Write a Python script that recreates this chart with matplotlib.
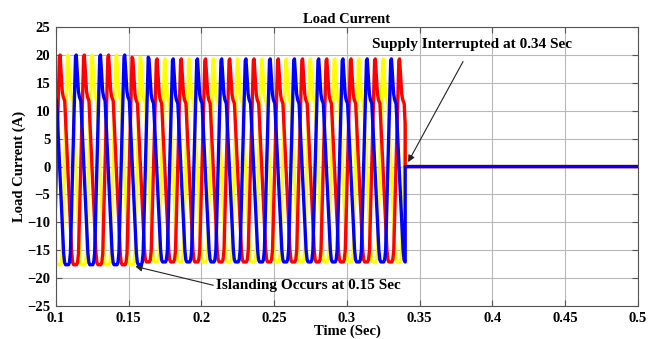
import numpy as np
import matplotlib
matplotlib.use("Agg")
import matplotlib.pyplot as plt

# Forma de un ciclo de la corriente (fraccion del periodo desde el pico, valor en A)
fase_ciclo = [0.00, 0.04, 0.09, 0.13, 0.19, 0.48, 0.52, 0.56, 0.68, 0.72, 0.76, 0.97, 1.00]
ciclo_antes = [20.0, 17.0, 13.5, 12.5, 11.8, -15.5, -17.2, -17.6, -17.6, -17.2, -15.5, 19.6, 20.0]
ciclo_despues = [19.3, 16.5, 13.0, 12.0, 11.3, -15.0, -16.7, -17.1, -17.1, -16.7, -15.0, 19.0, 19.3]

# Primer pico de cada fase (s) y orden de dibujo
nombres_fase = ["yellow", "red", "blue"]
pico_inicial = [0.1083, 0.1028, 0.1139]
colores = ["#ffff00", "#ff0000", "#0000ff"]

periodo = 1 / 60
t_inicio = 0.1
t_islanding = 0.15
t_corte = 0.34
t_fin = 0.5

x_ticks = [0.1, 0.15, 0.2, 0.25, 0.3, 0.35, 0.4, 0.45, 0.5]
x_tick_labels = ["0.1", "0.15", "0.2", "0.25", "0.3", "0.35", "0.4", "0.45", "0.5"]
y_ticks = [-25, -20, -15, -10, -5, 0, 5, 10, 15, 20, 25]


def onda_fase(pico):
    tiempos, valores = [], []
    for k in range(-2, 16):
        t_pico = pico + k * periodo
        forma = ciclo_antes if t_pico < t_islanding else ciclo_despues
        for f, v in zip(fase_ciclo[:-1], forma[:-1]):
            tiempos.append(t_pico + f * periodo)
            valores.append(v)
    tiempos = np.array(tiempos)
    valores = np.array(valores)
    v_corte = np.interp(t_corte, tiempos, valores)
    dentro = tiempos < t_corte
    tiempos = np.concatenate([tiempos[dentro], [t_corte, t_corte, t_fin]])
    valores = np.concatenate([valores[dentro], [v_corte, 0, 0]])
    return tiempos, valores


plt.rcParams["font.family"] = ["Liberation Serif", "DejaVu Serif"]
plt.rcParams["font.weight"] = "bold"

fig = plt.figure(figsize=(6.49, 3.39), dpi=100)
ax = fig.add_axes([0.0863, 0.0973, 0.8967, 0.8227])

for pico, color in zip(pico_inicial, colores):
    t, v = onda_fase(pico)
    ax.plot(t, v, color=color, linewidth=2.4, solid_joinstyle="round")

ax.set_xlim(0.1, 0.5)
ax.set_ylim(-25, 25)
ax.set_xticks(x_ticks)
ax.set_xticklabels(x_tick_labels)
ax.set_yticks(y_ticks)
ax.grid(True, color="#b8b8b8", linewidth=0.8)
ax.tick_params(direction="in", top=True, right=True, labelsize=10.5, length=4,
               color="#555555", pad=4)
for lado in ax.spines.values():
    lado.set_color("#555555")
    lado.set_linewidth(0.8)

ax.set_title("Load Current", fontsize=10.5, fontweight="bold", pad=3)
ax.set_xlabel("Time (Sec)", fontsize=10.5, fontweight="bold", labelpad=0)
ax.set_ylabel("Load Current (A)", fontsize=10.5, fontweight="bold", labelpad=1)

ax.annotate("Supply Interrupted at 0.34 Sec", xy=(0.342, 0.8), xytext=(0.386, 21.8),
            ha="center", va="center", fontsize=11, fontweight="bold",
            arrowprops=dict(arrowstyle="-|>", color="#222222", lw=0.8,
                            shrinkA=6, shrinkB=0, mutation_scale=10))
ax.annotate("Islanding Occurs at 0.15 Sec", xy=(0.1545, -17.9), xytext=(0.2735, -21.4),
            ha="center", va="center", fontsize=11, fontweight="bold",
            arrowprops=dict(arrowstyle="-|>", color="#222222", lw=0.8,
                            shrinkA=0, shrinkB=0, mutation_scale=10,
                            relpos=(0.0, 0.5)))

fig.savefig("out.png", dpi=100)
